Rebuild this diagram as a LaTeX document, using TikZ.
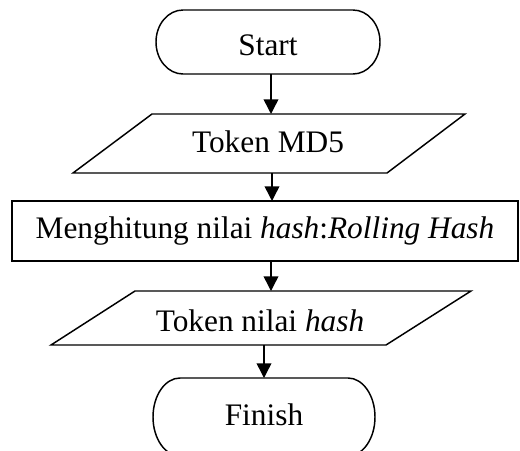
\documentclass[tikz,border=0pt]{standalone}
\usepackage{fontspec}
\setmainfont{Liberation Serif}
\usetikzlibrary{arrows.meta,calc}
\begin{document}
\begin{tikzpicture}[x=0.75pt,y=-0.75pt,
  shapeline/.style={draw=black,line width=1.1pt,line join=miter},
  txt/.style={font=\fontsize{23.5}{28}\selectfont,inner sep=0pt,anchor=base},
  flow/.style={draw=black,line width=1.1pt,-{Triangle[width=11pt,length=11pt]}}]
\useasboundingbox (0,0) rectangle (520,450);
\clip (0,0) rectangle (520,450);
% terminal: Start
\draw[shapeline] (183,10) -- (353,10)
  arc[start angle=-90,end angle=90,x radius=27,y radius=32] -- (183,74)
  arc[start angle=90,end angle=270,x radius=27,y radius=32] -- cycle;
\node[txt] (start) at (268,55) {Start};
% input parallelogram
\draw[shapeline] (73,173) -- (152,114) -- (465,114) -- (387,173) -- cycle;
\node[txt] (in1) at (268,152) {Token MD5};
% process
\node[shapeline,font=\fontsize{23.5}{28}\selectfont,inner sep=0pt,
  minimum width=379.5pt,minimum height=45pt] (proc) at (265,231)
  {Menghitung nilai \textit{hash}:\textit{Rolling Hash}};
% output parallelogram
\draw[shapeline] (51,345) -- (135,291) -- (471,291) -- (386,345) -- cycle;
\node[txt] (out1) at (260,331) {Token nilai \textit{hash}};
% terminal: Finish
\draw[shapeline] (180,378) -- (348,378)
  arc[start angle=-90,end angle=90,x radius=27,y radius=39] -- (180,456)
  arc[start angle=90,end angle=270,x radius=27,y radius=39] -- cycle;
\node[txt] (finish) at (264,425) {Finish};
% connector ends
\coordinate (s1) at (271,74);  \coordinate (e1) at (271,114);
\coordinate (s2) at (272,173); \coordinate (e2) at (272,201);
\coordinate (s3) at (271,261); \coordinate (e3) at (271,291);
\coordinate (s4) at (264,345); \coordinate (e4) at (264,378);
\draw[flow] (s1) -- (e1);
\draw[flow] (s2) -- (e2);
\draw[flow] (s3) -- (e3);
\draw[flow] (s4) -- (e4);
\end{tikzpicture}
\end{document}
